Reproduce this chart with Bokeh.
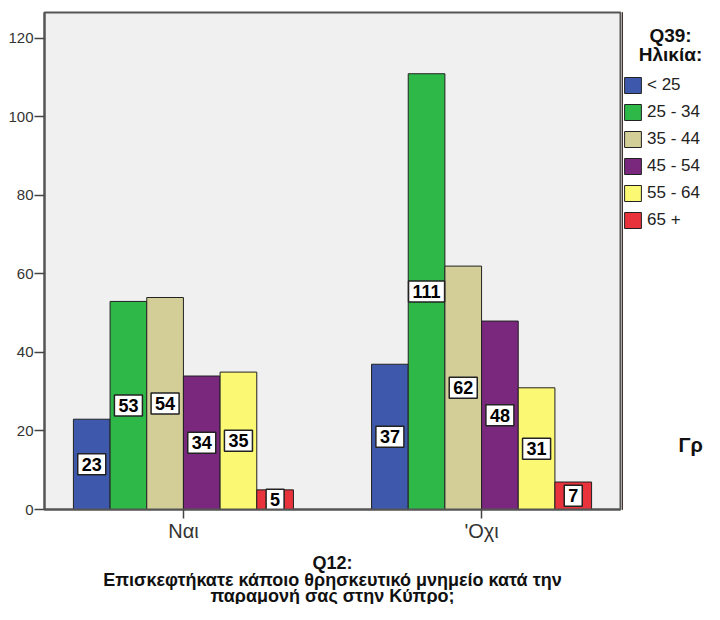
from bokeh.plotting import figure
from bokeh.layouts import row, column
from bokeh.models import ColumnDataSource, Range1d, FixedTicker, Label
from bokeh.transform import dodge
from bokeh.core.properties import value
from bokeh.embed import file_html
from bokeh.resources import INLINE

# ---- data ----
categories = ["Ναι", "'Οχι"]
age_groups = ["< 25", "25 - 34", "35 - 44", "45 - 54", "55 - 64", "65 +"]
lt25 = [23, 37]
a25_34 = [53, 111]
a35_44 = [54, 62]
a45_54 = [34, 48]
a55_64 = [35, 31]
a65plus = [5, 7]
series = [lt25, a25_34, a35_44, a45_54, a55_64, a65plus]
colors = ["#3e58ac", "#2eb848", "#d3ce97", "#79287d", "#fbf873", "#e8333c"]
y_ticks = [0, 20, 40, 60, 80, 100, 120]
x_title = ["Q12:", "Επισκεφτήκατε κάποιο θρησκευτικό μνημείο κατά την",
           "παραμονή σας στην Κύπρο;"]
legend_title = ["Q39:", "Ηλικία:"]
side_note = "Γρ"

FONT = "Liberation Sans"
group_pos = [1, 2]
bar_w = 0.123
TOP_H = 544
SIDE_W = 82
MAIN_W = 622
BOTTOM_H = 60
FRAME_TOP, FRAME_BOTTOM = 12, 510   # shared frame extent (pixels from top)

# ---------------- main chart ----------------
p = figure(width=MAIN_W, height=TOP_H,
           x_range=Range1d(0.534, 2.466), y_range=Range1d(0, 126.6),
           output_backend="svg", toolbar_location=None,
           min_border_left=44, min_border_right=2,
           min_border_top=FRAME_TOP, min_border_bottom=TOP_H - FRAME_BOTTOM)

p.background_fill_color = "#f0f0f0"
p.border_fill_color = "white"
p.outline_line_color = "#555555"
p.outline_line_width = 2
p.xgrid.visible = False
p.ygrid.visible = False

label_sources = []
for i, (vals, col) in enumerate(zip(series, colors)):
    off = (i - 2.5) * bar_w
    src = ColumnDataSource(dict(
        x=group_pos, value=vals, mid=[v / 2 for v in vals],
        label=[str(v) for v in vals]))
    p.vbar(x=dodge("x", off, range=p.x_range), top="value", width=bar_w,
           source=src, fill_color=col, line_color="#222222", line_width=1)
    label_sources.append((off, src))

for off, src in label_sources:
    p.text(x=dodge("x", off, range=p.x_range), y="mid", text="label",
           source=src, text_align="center", text_baseline="middle",
           text_font=value(FONT), text_font_style="bold",
           text_font_size="18px", text_color="black",
           background_fill_color="white",
           border_line_color="#222222", border_line_width=1.5,
           padding=4)

yax = p.yaxis[0]
yax.ticker = FixedTicker(ticks=y_ticks)
yax.major_label_text_font = FONT
yax.major_label_text_font_size = "15px"
yax.major_label_text_color = "#333333"
yax.major_tick_out = 10
yax.major_tick_in = 0
yax.major_label_standoff = 1
yax.minor_tick_line_color = None
yax.axis_line_color = "#555555"
yax.axis_line_width = 2
yax.major_tick_line_color = "#444444"
yax.major_tick_line_width = 1.5

xax = p.xaxis[0]
xax.ticker = FixedTicker(ticks=group_pos)
xax.major_label_overrides = {g: c for g, c in zip(group_pos, categories)}
xax.major_label_text_font = FONT
xax.major_label_text_font_size = "20px"
xax.major_label_text_color = "#333333"
xax.major_tick_out = 9
xax.major_tick_in = 0
xax.major_label_standoff = 1
xax.minor_tick_line_color = None
xax.axis_line_color = "#555555"
xax.axis_line_width = 2
xax.major_tick_line_color = "#444444"
xax.major_tick_line_width = 1.5

# ---------------- side panel: legend ----------------
side = figure(width=SIDE_W, height=TOP_H,
              x_range=Range1d(0, SIDE_W), y_range=Range1d(FRAME_BOTTOM, FRAME_TOP),
              output_backend="svg", toolbar_location=None,
              x_axis_location=None, y_axis_location=None,
              min_border=0)
side.outline_line_color = None
side.background_fill_color = "white"
side.border_fill_color = "white"
side.xgrid.visible = False
side.ygrid.visible = False

# legend swatches: helper renderers kept outside the visible range
for age, col in zip(age_groups, colors):
    side.vbar(x=[-50], top=[FRAME_BOTTOM], width=1, fill_color=col,
              line_color="#222222", line_width=1, legend_label=age)

leg = side.legend[0]
leg.location = (0, 279)
leg.padding = 0
leg.margin = 0
leg.spacing = 7
leg.glyph_width = 21
leg.glyph_height = 20
leg.label_height = 20
leg.label_standoff = 4
leg.label_text_font = FONT
leg.label_text_font_size = "17px"
leg.label_text_color = "#222222"
leg.border_line_color = None
leg.background_fill_alpha = 0

for txt, yy in zip(legend_title, [35, 54]):
    side.add_layout(Label(x=48, y=yy, text=txt,
                          text_align="center", text_baseline="middle",
                          text_font=FONT, text_font_style="bold",
                          text_font_size="19px", text_color="#111111"))

side.add_layout(Label(x=56, y=445, text=side_note,
                      text_align="left", text_baseline="middle",
                      text_font=FONT, text_font_style="bold",
                      text_font_size="20px", text_color="#111111"))

# ---------------- bottom: x-axis title ----------------
W = MAIN_W + SIDE_W
bottom = figure(width=W, height=BOTTOM_H,
                x_range=Range1d(0, W), y_range=Range1d(TOP_H + BOTTOM_H, TOP_H),
                output_backend="svg", toolbar_location=None,
                x_axis_location=None, y_axis_location=None,
                min_border=0)
bottom.outline_line_color = None
bottom.background_fill_color = "white"
bottom.border_fill_color = "white"
bottom.xgrid.visible = False
bottom.ygrid.visible = False

for txt, yy in zip(x_title, [562, 579, 595]):
    bottom.add_layout(Label(x=332, y=yy, text=txt,
                            text_align="center", text_baseline="middle",
                            text_font=FONT, text_font_style="bold",
                            text_font_size="18px", text_color="#111111"))

layout = column(row(p, side, spacing=0), bottom, spacing=0)

open("out.html", "w").write(file_html(layout, INLINE))
